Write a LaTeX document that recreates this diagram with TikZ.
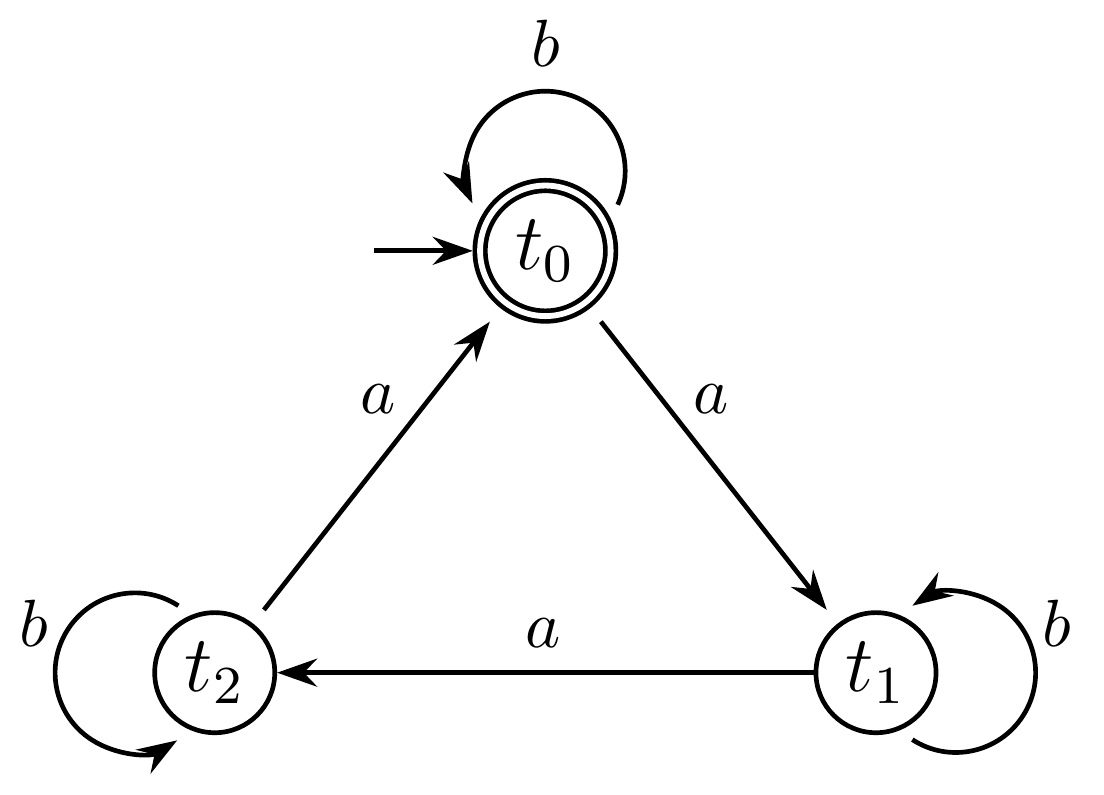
\documentclass[tikz,border=0pt]{standalone}
\usetikzlibrary{arrows.meta,positioning}
\begin{document}
\begin{tikzpicture}[>={Stealth[length=6pt,width=4.2pt,inset=2pt]},line width=0.7pt,
    st/.style={draw,circle,inner sep=0pt,minimum size=0.632cm,font=\large},
    acc/.style={st,double,double distance=0.87pt,minimum size=0.687cm,outer sep=1.1pt},
    gap/.style={shorten <=2.6pt,shorten >=2.6pt}]
  \useasboundingbox (0,0) rectangle (5.81,4.18);
  \node[acc] (t0) at (2.87,2.86) {$t_0$};
  \node[st] (t1) at (4.61,0.64) {$t_1$};
  \node[st] (t2) at (1.13,0.64) {$t_2$};
  \coordinate (start) at (1.97,2.86);
  \coordinate[above=0.42cm of t0.center] (l0);
  \coordinate[right=0.42cm of t1.center] (l1);
  \coordinate[left=0.42cm of t2.center] (l2);
  \draw[->] (start)--(t0);
  \draw[->,gap] (t0)--(t1);
  \draw[->,gap] (t2)--(t0);
  \draw[->] (t1)--(t2);
  \draw[->] ([shift={(-25:0.42)}]l0) arc[start angle=-25,end angle=204,radius=0.42];
  \draw[->] ([shift={(-123:0.42)}]l1) arc[start angle=-123,end angle=123,radius=0.42];
  \draw[->] ([shift={(57:0.42)}]l2) arc[start angle=57,end angle=302,radius=0.42];
  \node (b0) at (2.87,3.95) {$b$};
  \node (b1) at (5.56,0.9) {$b$};
  \node (b2) at (0.18,0.9) {$b$};
  \node (a01) at (3.74,2.08) {$a$};
  \node (a20) at (1.99,2.08) {$a$};
  \node (a12) at (2.86,0.85) {$a$};
\end{tikzpicture}
\end{document}
